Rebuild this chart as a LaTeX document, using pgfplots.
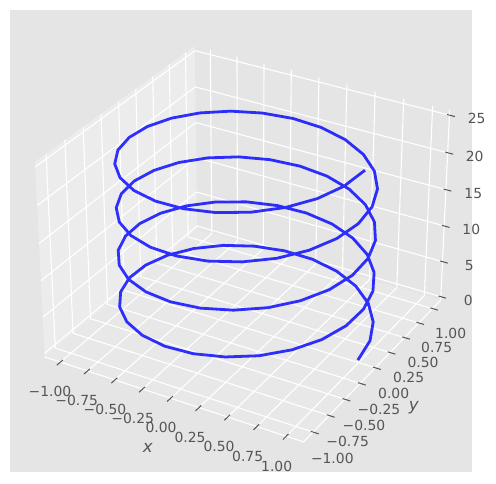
\documentclass[border=0pt]{standalone}
\usepackage{pgfplots}
\pgfplotsset{compat=1.18}
\usepackage{fontspec}
\setmainfont{DejaVu Sans}
\definecolor{bgg}{HTML}{E5E5E5}
\definecolor{lpane}{HTML}{ECECEC}
\definecolor{fpane}{HTML}{E8E8E8}
\definecolor{tk}{HTML}{555555}
\pgfplotsset{table/prj/.style={
  x expr={pjx(\thisrow{x},\thisrow{y},\thisrow{z})},
  y expr={pjy(\thisrow{x},\thisrow{y},\thisrow{z})}}}
\newcommand{\tl}[3]{\node[text=tk,inner sep=0pt,anchor=center,font=\fontsize{13.9bp}{16bp}\selectfont] at (axis cs:#1,#2) {#3};}
\begin{document}
\begin{tikzpicture}
\begin{axis}[
  width=496bp,height=484bp,scale only axis,
  xmin=0,xmax=496,ymin=0,ymax=484,y dir=reverse,
  hide axis,clip=false,
  declare function={
    pjd(\a,\b,\c)=10-0.2343*\a+0.4058*\b-0.01777*(\c-12.566);
    pjx(\a,\b,\c)=246.5+2390*(0.4686*\a+0.2706*\b)/pjd(\a,\b,\c);
    pjy(\a,\b,\c)=234-2390*(-0.1353*\a+0.2343*\b+0.03077*(\c-12.566))/pjd(\a,\b,\c);
  },
  every axis plot/.append style={no markers},
]
\path (axis cs:0,0) rectangle (axis cs:496,484);
\fill[bgg] (axis cs:10,10) rectangle (axis cs:472,472);
% panes
\addplot[fill=lpane,draw=none] table[prj] {
x y z
-1.146 -1.146 -0.524
-1.146 1.146 -0.524
-1.146 1.146 25.657
-1.146 -1.146 25.657
};
\addplot[fill=fpane,draw=none] table[prj] {
x y z
-1.146 -1.146 -0.524
-1.146 1.146 -0.524
1.146 1.146 -0.524
1.146 -1.146 -0.524
};
% grid lines
\addplot[white,line width=1.1bp,empty line=jump] table[prj] {
x y z
-1 -1.146 -0.524
-1 1.146 -0.524
-1 1.146 25.657

-0.75 -1.146 -0.524
-0.75 1.146 -0.524
-0.75 1.146 25.657

-0.5 -1.146 -0.524
-0.5 1.146 -0.524
-0.5 1.146 25.657

-0.25 -1.146 -0.524
-0.25 1.146 -0.524
-0.25 1.146 25.657

0 -1.146 -0.524
0 1.146 -0.524
0 1.146 25.657

0.25 -1.146 -0.524
0.25 1.146 -0.524
0.25 1.146 25.657

0.5 -1.146 -0.524
0.5 1.146 -0.524
0.5 1.146 25.657

0.75 -1.146 -0.524
0.75 1.146 -0.524
0.75 1.146 25.657

1 -1.146 -0.524
1 1.146 -0.524
1 1.146 25.657

1.146 -1 -0.524
-1.146 -1 -0.524
-1.146 -1 25.657

1.146 -0.75 -0.524
-1.146 -0.75 -0.524
-1.146 -0.75 25.657

1.146 -0.5 -0.524
-1.146 -0.5 -0.524
-1.146 -0.5 25.657

1.146 -0.25 -0.524
-1.146 -0.25 -0.524
-1.146 -0.25 25.657

1.146 0 -0.524
-1.146 0 -0.524
-1.146 0 25.657

1.146 0.25 -0.524
-1.146 0.25 -0.524
-1.146 0.25 25.657

1.146 0.5 -0.524
-1.146 0.5 -0.524
-1.146 0.5 25.657

1.146 0.75 -0.524
-1.146 0.75 -0.524
-1.146 0.75 25.657

1.146 1 -0.524
-1.146 1 -0.524
-1.146 1 25.657

-1.146 -1.146 0
-1.146 1.146 0
1.146 1.146 0

-1.146 -1.146 5
-1.146 1.146 5
1.146 1.146 5

-1.146 -1.146 10
-1.146 1.146 10
1.146 1.146 10

-1.146 -1.146 15
-1.146 1.146 15
1.146 1.146 15

-1.146 -1.146 20
-1.146 1.146 20
1.146 1.146 20

-1.146 -1.146 25
-1.146 1.146 25
1.146 1.146 25
};
% axis lines
\addplot[white,line width=1.1bp] table[prj] {
x y z
-1.146 -1.146 -0.524
1.146 -1.146 -0.524
1.146 1.146 -0.524
1.146 1.146 25.657
};
% tick marks
\addplot[tk,line width=1.0bp,empty line=jump] table[prj] {
x y z
-1 -1.196 -0.524
-1 -1.112 -0.524

-0.75 -1.196 -0.524
-0.75 -1.112 -0.524

-0.5 -1.196 -0.524
-0.5 -1.112 -0.524

-0.25 -1.196 -0.524
-0.25 -1.112 -0.524

0 -1.196 -0.524
0 -1.112 -0.524

0.25 -1.196 -0.524
0.25 -1.112 -0.524

0.5 -1.196 -0.524
0.5 -1.112 -0.524

0.75 -1.196 -0.524
0.75 -1.112 -0.524

1 -1.196 -0.524
1 -1.112 -0.524

1.193 -1 -0.524
1.126 -1 -0.524

1.193 -0.75 -0.524
1.126 -0.75 -0.524

1.193 -0.5 -0.524
1.126 -0.5 -0.524

1.193 -0.25 -0.524
1.126 -0.25 -0.524

1.193 0 -0.524
1.126 0 -0.524

1.193 0.25 -0.524
1.126 0.25 -0.524

1.193 0.5 -0.524
1.126 0.5 -0.524

1.193 0.75 -0.524
1.126 0.75 -0.524

1.193 1 -0.524
1.126 1 -0.524

1.193 1.146 0
1.126 1.146 0

1.193 1.146 5
1.126 1.146 5

1.193 1.146 10
1.126 1.146 10

1.193 1.146 15
1.126 1.146 15

1.193 1.146 20
1.126 1.146 20

1.193 1.146 25
1.126 1.146 25
};
% helix
\addplot[blue,opacity=0.8,line width=2.8bp,line join=round,line cap=rect] table[prj] {
x y z
1.000 0.000 0.000
0.968 0.251 0.254
0.874 0.486 0.508
0.724 0.690 0.762
0.527 0.850 1.015
0.297 0.955 1.269
0.048 0.999 1.523
-0.205 0.979 1.777
-0.444 0.896 2.031
-0.655 0.756 2.285
-0.824 0.567 2.539
-0.940 0.342 2.793
-0.995 0.095 3.046
-0.987 -0.158 3.300
-0.916 -0.401 3.554
-0.786 -0.618 3.808
-0.606 -0.796 4.062
-0.386 -0.922 4.316
-0.142 -0.990 4.570
0.111 -0.994 4.824
0.357 -0.934 5.077
0.580 -0.815 5.331
0.766 -0.643 5.585
0.903 -0.430 5.839
0.982 -0.189 6.093
0.998 0.063 6.347
0.950 0.312 6.601
0.841 0.541 6.854
0.679 0.735 7.108
0.472 0.881 7.362
0.236 0.972 7.616
-0.016 1.000 7.870
-0.267 0.964 8.124
-0.500 0.866 8.378
-0.702 0.713 8.632
-0.858 0.514 8.885
-0.960 0.282 9.139
-1.000 0.032 9.393
-0.975 -0.220 9.647
-0.889 -0.458 9.901
-0.745 -0.667 10.155
-0.554 -0.833 10.409
-0.327 -0.945 10.663
-0.079 -0.997 10.916
0.174 -0.985 11.170
0.415 -0.910 11.424
0.631 -0.776 11.678
0.805 -0.593 11.932
0.928 -0.372 12.186
0.992 -0.127 12.440
0.992 0.127 12.693
0.928 0.372 12.947
0.805 0.593 13.201
0.631 0.776 13.455
0.415 0.910 13.709
0.174 0.985 13.963
-0.079 0.997 14.217
-0.327 0.945 14.471
-0.554 0.833 14.724
-0.745 0.667 14.978
-0.889 0.458 15.232
-0.975 0.220 15.486
-1.000 -0.032 15.740
-0.960 -0.282 15.994
-0.858 -0.514 16.248
-0.702 -0.713 16.502
-0.500 -0.866 16.755
-0.267 -0.964 17.009
-0.016 -1.000 17.263
0.236 -0.972 17.517
0.472 -0.881 17.771
0.679 -0.735 18.025
0.841 -0.541 18.279
0.950 -0.312 18.533
0.998 -0.063 18.786
0.982 0.189 19.040
0.903 0.430 19.294
0.766 0.643 19.548
0.580 0.815 19.802
0.357 0.934 20.056
0.111 0.994 20.310
-0.142 0.990 20.564
-0.386 0.922 20.817
-0.606 0.796 21.071
-0.786 0.618 21.325
-0.916 0.401 21.579
-0.987 0.158 21.833
-0.995 -0.095 22.087
-0.940 -0.342 22.341
-0.824 -0.567 22.594
-0.655 -0.756 22.848
-0.444 -0.896 23.102
-0.205 -0.979 23.356
0.048 -0.999 23.610
0.297 -0.955 23.864
0.527 -0.850 24.118
0.724 -0.690 24.372
0.874 -0.486 24.625
0.968 -0.251 24.879
1.000 0.000 25.133
};
% tick labels
\tl{476.7}{118}{25}
\tl{474.7}{156}{20}
\tl{473.3}{193.3}{15}
\tl{471.3}{229.3}{10}
\tl{469.3}{265.3}{5}
\tl{468.3}{300}{0}
\tl{50}{391}{−1.00}
\tl{76.7}{400}{−0.75}
\tl{105}{409}{−0.50}
\tl{132.7}{418.3}{−0.25}
\tl{161}{427.7}{0.00}
\tl{190}{437.3}{0.25}
\tl{219}{446.7}{0.50}
\tl{247.7}{456}{0.75}
\tl{276.7}{466}{1.00}
\tl{332.3}{458.3}{−1.00}
\tl{347.7}{441}{−0.75}
\tl{364}{425}{−0.50}
\tl{379}{409}{−0.25}
\tl{393.7}{393.3}{0.00}
\tl{408.7}{377.3}{0.25}
\tl{423}{362}{0.50}
\tl{436.7}{347}{0.75}
\tl{450.7}{333}{1.00}
\node[text=tk,inner sep=0pt,anchor=center,font=\fontsize{16.7bp}{19bp}\selectfont\itshape] at (axis cs:147.7,448.3) {x};
\node[text=tk,inner sep=0pt,anchor=center,font=\fontsize{16.7bp}{19bp}\selectfont\itshape] at (axis cs:413.7,407.3) {y};
\end{axis}
\end{tikzpicture}
\end{document}
